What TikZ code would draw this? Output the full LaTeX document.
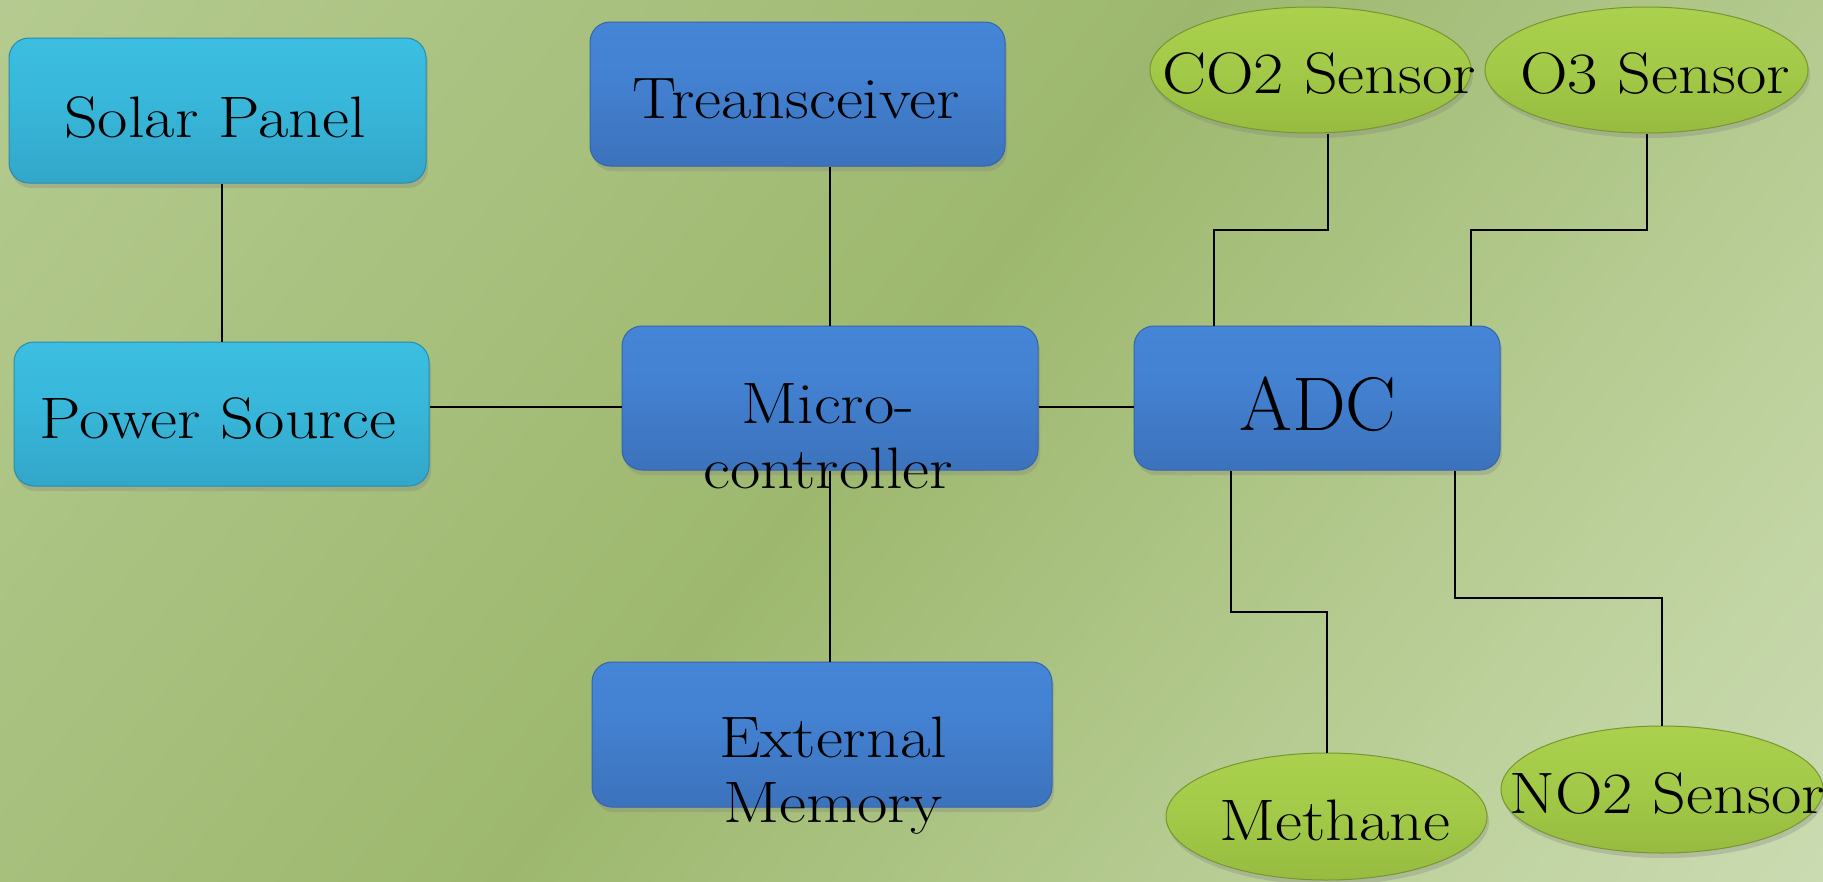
\documentclass[tikz,border=0pt]{standalone}
\usepackage{fontspec}
\newfontfamily\lblfont{lmroman17-regular.otf}[FakeStretch=1.13]
\newfontfamily\adcfont{lmroman17-regular.otf}
\usetikzlibrary{shapes.geometric,shadows}
\definecolor{bgTL}{RGB}{205,222,180}
\definecolor{bgBand}{RGB}{157,184,110}
\definecolor{bgTR}{RGB}{190,210,158}
\definecolor{bgL2}{RGB}{216,228,198}
\definecolor{bgBR}{RGB}{236,242,227}
\definecolor{cyD}{RGB}{42,130,160}
\definecolor{cyB}{RGB}{47,154,188}
\definecolor{cyM}{RGB}{56,184,219}
\definecolor{cyT}{RGB}{62,196,230}
\definecolor{cyH}{RGB}{120,232,252}
\definecolor{cyEdge}{RGB}{40,140,172}
\definecolor{blD}{RGB}{46,92,152}
\definecolor{blB}{RGB}{55,104,173}
\definecolor{blM}{RGB}{67,129,209}
\definecolor{blT}{RGB}{72,137,220}
\definecolor{blH}{RGB}{120,180,242}
\definecolor{blEdge}{RGB}{54,100,168}
\definecolor{gnD}{RGB}{125,158,50}
\definecolor{gnB}{RGB}{143,178,59}
\definecolor{gnM}{RGB}{162,201,71}
\definecolor{gnT}{RGB}{174,212,81}
\definecolor{gnH}{RGB}{192,224,100}
\definecolor{gnEdge}{RGB}{120,150,48}
\pgfdeclarehorizontalshading{bgshade}{100bp}{color(0bp)=(bgTL); color(5bp)=(bgTL); color(49bp)=(bgBand); color(65bp)=(bgTR); color(80bp)=(bgL2); color(95bp)=(bgBR); color(100bp)=(bgBR)}
\pgfdeclareverticalshading{cyanshade}{100bp}{color(0bp)=(cyD); color(4bp)=(cyB); color(55bp)=(cyM); color(92bp)=(cyT); color(96bp)=(cyH); color(100bp)=(cyH)}
\pgfdeclareverticalshading{blueshade}{100bp}{color(0bp)=(blD); color(4bp)=(blB); color(55bp)=(blM); color(92bp)=(blT); color(96bp)=(blH); color(100bp)=(blH)}
\pgfdeclareverticalshading{greenshade}{100bp}{color(0bp)=(gnD); color(8bp)=(gnB); color(50bp)=(gnM); color(85bp)=(gnT); color(95bp)=(gnH); color(100bp)=(gnH)}
\tikzset{
  box/.style={rectangle, rounded corners=20pt, inner sep=0pt, line width=1pt,
    drop shadow={opacity=0.3, shadow xshift=2pt, shadow yshift=-5pt}},
  cyanbox/.style={box, shade, shading=cyanshade, draw=cyEdge},
  bluebox/.style={box, shade, shading=blueshade, draw=blEdge},
  sensor/.style={ellipse, inner sep=0pt, line width=1pt, shade, shading=greenshade, draw=gnEdge,
    minimum width=321pt, minimum height=126pt,
    drop shadow={opacity=0.3, shadow xshift=2pt, shadow yshift=-5pt}},
  lbl/.style={font=\lblfont\fontsize{58.5}{65}\selectfont, inner sep=0pt, anchor=base, align=center, text=black},
  wire/.style={line width=2pt, draw=black},
}
\begin{document}
\begin{tikzpicture}[x=1pt,y=-1pt]
\useasboundingbox (0,0) rectangle (1823,881);
% background
\begin{scope}
  \clip (0,0) rectangle (1823,881);
  \shade[shading=bgshade, transform canvas={shift={(911.5,440.5)}, rotate=-38.7}] (-1100,-1100) rectangle (1100,1100);
\end{scope}
% boxes
\node[cyanbox, minimum width=417pt, minimum height=145pt] (Solar) at (217.5,110.5) {};
\node[cyanbox, minimum width=415pt, minimum height=144pt] (Power) at (221.5,414) {};
\node[bluebox, minimum width=415pt, minimum height=144pt] (Treans) at (797.5,94) {};
\node[bluebox, minimum width=416pt, minimum height=144pt] (Micro) at (830,398) {};
\node[bluebox, minimum width=460pt, minimum height=145pt] (Ext) at (822,734.5) {};
\node[bluebox, minimum width=366pt, minimum height=144pt] (ADC) at (1317,398) {};
\node[sensor] (CO2) at (1310.5,70) {};
\node[sensor, minimum width=323pt] (O3) at (1646.5,70) {};
\node[sensor, minimum height=127pt] (Methane) at (1326.5,816.5) {};
\node[sensor, minimum width=322pt, minimum height=127pt] (NO2) at (1662,789.5) {};
% helper coordinates
\coordinate (bus) at (0,407);
\coordinate (topbend) at (0,230);
\coordinate (lowbendA) at (0,612);
\coordinate (lowbendB) at (0,598);
\coordinate (co2p) at ([xshift=17pt]CO2.south);
\coordinate (adcA) at ([xshift=80pt]ADC.north west);
\coordinate (adcB) at ([xshift=337pt]ADC.north west);
\coordinate (adcC) at ([xshift=97pt]ADC.south west);
\coordinate (adcD) at ([xshift=321pt]ADC.south west);
% connectors
\draw[wire] (Power.north) -- (Power.north |- Solar.south);
\draw[wire] (Power.east |- bus) -- (Micro.west |- bus);
\draw[wire] (Micro.east |- bus) -- (ADC.west |- bus);
\draw[wire] (Micro.north) -- (Micro.north |- Treans.south);
\draw[wire] (Micro.south) -- (Micro.south |- Ext.north);
\draw[wire] (co2p) -- (co2p |- topbend) -| (adcA);
\draw[wire] (O3.south) -- (O3.south |- topbend) -| (adcB);
\draw[wire] (adcC) -- (adcC |- lowbendA) -| (Methane.north);
\draw[wire] (adcD) -- (adcD |- lowbendB) -| (NO2.north);
% labels
\node[lbl] (tSolar) at (215,137) {Solar Panel};
\node[lbl] (tPower) at (218,438) {Power Source};
\node[lbl] (tTreans) at (796,118) {Treansceiver};
\node[lbl] (tMicro) at (828,488) {Micro-\\controller};
\node[lbl] (tExt) at (833,822) {External\\Memory};
\node[lbl, font=\adcfont\fontsize{76}{80}\selectfont] (tADC) at (1318,430) {ADC};
\node[lbl] (tCO2) at (1319,93) {CO2 Sensor};
\node[lbl] (tO3) at (1655,93) {O3 Sensor};
\node[lbl] (tMethane) at (1335,840) {Methane};
\node[lbl] (tNO2) at (1667,813) {NO2 Sensor};
\end{tikzpicture}
\end{document}
